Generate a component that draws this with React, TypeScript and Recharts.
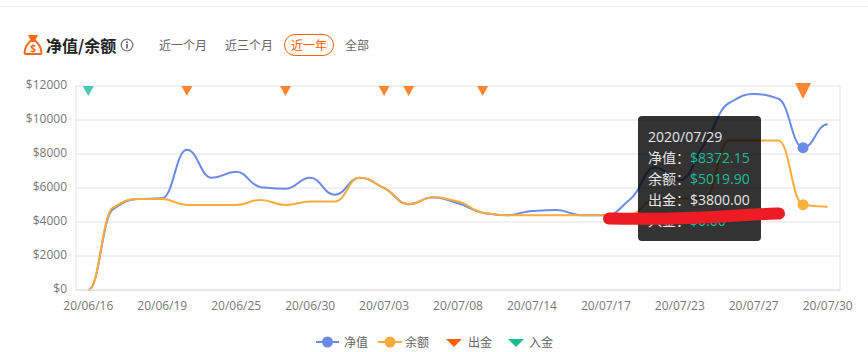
import { LineChart, Line, XAxis, YAxis, CartesianGrid, Tooltip } from 'recharts';

const dates = [
  '20/06/16', '20/06/17', '20/06/18', '20/06/19', '20/06/22', '20/06/24', '20/06/25', '20/06/26',
  '20/06/29', '20/06/30', '20/07/01', '20/07/02', '20/07/03', '20/07/06', '20/07/07', '20/07/08',
  '20/07/09', '20/07/13', '20/07/14', '20/07/15', '20/07/16', '20/07/17', '20/07/20', '20/07/22',
  '20/07/23', '20/07/24', '20/07/26', '20/07/27', '20/07/28', '20/07/29', '20/07/30',
];
const netValue = [
  0, 4750, 5350, 5400, 8250, 6600, 6950, 6050, 5950, 6600, 5600, 6600, 6000, 5050, 5450, 5100,
  4550, 4400, 4650, 4700, 4400, 4400, 5350, 7200, 6470, 8600, 11000, 11530, 11250, 8372.15, 9750,
];
const balance = [
  0, 4850, 5350, 5350, 5000, 5000, 5000, 5300, 5000, 5200, 5200, 6600, 6000, 5050, 5450, 5200,
  4550, 4400, 4400, 4400, 4400, 4400, 4450, 5350, 5400, 5400, 8800, 8800, 8800, 5019.9, 4900,
];
const outflowDates = ['20/06/22', '20/06/29', '20/07/03', '20/07/06', '20/07/09', '20/07/29'];
const inflowDates = ['20/06/16'];
const yTicks = [0, 2000, 4000, 6000, 8000, 10000, 12000];
const ranges = ['近一个月', '近三个月', '近一年', '全部'];
const tipOutflow = '3800.00';
const tipInflow = '0.00';

const TOP = 12000;
const chartData = dates.map((date, i) => ({
  date,
  net: netValue[i],
  balance: balance[i],
  outflow: outflowDates.includes(date) ? TOP : null,
  inflow: inflowDates.includes(date) ? TOP : null,
}));

const FONT = '"Noto Sans CJK SC", "Open Sans", sans-serif';
const LATIN = '"Open Sans", "Noto Sans CJK SC", sans-serif';
const BLUE = '#6b8ae3';
const AMBER = '#f9ab3c';
const ORANGE = '#ff6000';
const GREEN = '#1abc94';

// softer than monotone: damped tangents give the S-shaped steps of the original
function softCurve(ctx: any) {
  let xs: number[] = [];
  let ys: number[] = [];
  return {
    areaStart() {},
    areaEnd() {},
    lineStart() {
      xs = [];
      ys = [];
    },
    point(x: number, y: number) {
      xs.push(+x);
      ys.push(+y);
    },
    lineEnd() {
      const n = xs.length;
      if (!n) return;
      const slope = xs.map((_, i) => {
        if (i === 0 || i === n - 1) return 0;
        const d0 = (ys[i] - ys[i - 1]) / (xs[i] - xs[i - 1]);
        const d1 = (ys[i + 1] - ys[i]) / (xs[i + 1] - xs[i]);
        return d0 * d1 <= 0 ? 0 : (0.9 * 2 * d0 * d1) / (d0 + d1);
      });
      ctx.moveTo(xs[0], ys[0]);
      for (let i = 1; i < n; i++) {
        const h = (xs[i] - xs[i - 1]) * 0.45;
        ctx.bezierCurveTo(xs[i - 1] + h, ys[i - 1] + slope[i - 1] * h, xs[i] - h, ys[i] - slope[i] * h, xs[i], ys[i]);
      }
    },
  };
}

function triangle(color: string, w: number, h: number, lift = 0) {
  return (props: any) => {
    const { cx, cy, key, value } = props;
    if (cy == null || value == null || cx == null) return <g key={key} />;
    return (
      <path
        key={key}
        d={`M${cx - w / 2},${cy - lift} L${cx + w / 2},${cy - lift} L${cx},${cy - lift + h} Z`}
        fill={color}
      />
    );
  };
}

function TipContent({ active, payload }: any) {
  if (!active || !payload?.length) return null;
  const row = payload[0].payload;
  const rowStyle = { height: 21, whiteSpace: 'nowrap' as const };
  const num = { color: GREEN, fontFamily: LATIN };
  return (
    <div
      style={{
        width: 123,
        height: 125,
        boxSizing: 'border-box',
        padding: '10px 0 0 10px',
        background: 'rgba(0,0,0,0.8)',
        borderRadius: 4,
        color: '#e6e6e6',
        fontFamily: FONT,
        fontSize: 14,
        lineHeight: '21px',
      }}
    >
      <div style={{ ...rowStyle, fontFamily: LATIN }}>20{row.date}</div>
      <div style={rowStyle}>净值：<span style={num}>${row.net.toFixed(2)}</span></div>
      <div style={rowStyle}>余额：<span style={num}>${row.balance.toFixed(2)}</span></div>
      <div style={rowStyle}>出金：<span style={{ fontFamily: LATIN }}>${tipOutflow}</span></div>
      <div style={rowStyle}>入金：<span style={num}>${tipInflow}</span></div>
    </div>
  );
}

function Header() {
  return (
    <div style={{ position: 'absolute', left: 0, top: 0, width: 868, height: 70, fontFamily: FONT }}>
      <div style={{ position: 'absolute', left: 0, top: 6, width: 868, height: 1, background: '#eeeeee' }} />
      <svg style={{ position: 'absolute', left: 23, top: 34 }} width={20} height={21} viewBox="0 0 20 21">
        <path d="M5,1 H15 L12.5,6 H7.5 Z" fill="#ff6a13" />
        <path
          d="M7.5,7 H12.5 C15.5,9.5 18,13 18.5,19 Q18.5,20 17,20 H3 Q1.5,20 1.5,19 C2,13 4.5,9.5 7.5,7 Z"
          fill="#fff"
          stroke="#ff6a13"
          strokeWidth={2}
        />
        <text x={10} y={17.5} fontSize={10} fontWeight={700} textAnchor="middle" fill="#ff6a13" fontFamily={LATIN}>$</text>
      </svg>
      <div style={{ position: 'absolute', left: 46, top: 33, fontSize: 16, fontWeight: 700, lineHeight: '24px', color: '#222' }}>净值/余额</div>
      <svg style={{ position: 'absolute', left: 120, top: 38 }} width={14} height={14} viewBox="0 0 14 14">
        <circle cx={7} cy={7} r={5.8} fill="none" stroke="#777" strokeWidth={1.3} />
        <rect x={6.2} y={6} width={1.7} height={4.5} fill="#666" />
        <rect x={6.2} y={3.3} width={1.7} height={1.7} fill="#666" />
      </svg>
      {ranges.map((r, i) => {
        const left = [159, 225, 291, 345][i];
        const on = i === 2;
        return (
          <div key={r} style={{ position: 'absolute', left, top: 36, fontSize: 12, lineHeight: '18px', color: on ? ORANGE : '#666' }}>{r}</div>
        );
      })}
      <div style={{ position: 'absolute', left: 284, top: 34, width: 50, height: 22, boxSizing: 'border-box', border: `1px solid ${ORANGE}`, borderRadius: 11 }} />
    </div>
  );
}

function LegendRow() {
  const label = { position: 'absolute' as const, top: 333, fontSize: 12, lineHeight: '18px', color: '#666', fontFamily: FONT };
  return (
    <>
      <svg style={{ position: 'absolute', left: 0, top: 330 }} width={868} height={22}>
        <line x1={316} x2={339} y1={12} y2={12} stroke={BLUE} strokeWidth={2} />
        <circle cx={327.5} cy={12} r={5.5} fill={BLUE} />
        <line x1={378} x2={402} y1={12} y2={12} stroke={AMBER} strokeWidth={2} />
        <circle cx={390} cy={12} r={5.5} fill={AMBER} />
        <path d="M446,9 H462 L454,17 Z" fill={ORANGE} />
        <path d="M508,9 H524 L516,17 Z" fill={GREEN} />
      </svg>
      <div style={{ ...label, left: 344 }}>净值</div>
      <div style={{ ...label, left: 405 }}>余额</div>
      <div style={{ ...label, left: 468 }}>出金</div>
      <div style={{ ...label, left: 529 }}>入金</div>
    </>
  );
}

export default function App() {
  return (
    <div style={{ position: 'absolute', left: 0, top: 0, width: 868, height: 352, background: '#fff', overflow: 'hidden' }}>
      <Header />
      <div style={{ position: 'absolute', left: 0, top: 0 }}>
        <LineChart width={868} height={352} data={chartData} margin={{ top: 86, right: 28, bottom: 32, left: 0 }}>
          <CartesianGrid
            stroke="#e2e2e2"
            verticalCoordinatesGenerator={({ offset }: any) => [offset.left, offset.left + offset.width]}
          />
          <XAxis
            dataKey="date"
            scale="band"
            interval={2}
            tickLine={false}
            axisLine={{ stroke: '#dcdce4' }}
            tick={{ fill: '#777', fontSize: 12, fontFamily: LATIN }}
            tickMargin={5}
          />
          <YAxis
            width={76}
            domain={[0, TOP]}
            ticks={yTicks}
            tickLine={false}
            axisLine={false}
            tickFormatter={(v: number) => `$${v}`}
            tick={{ fill: '#777', fontSize: 12, fontFamily: LATIN, dy: -1 }}
            tickMargin={3}
          />
          <Tooltip
            active
            defaultIndex={29}
            cursor={false}
            isAnimationActive={false}
            position={{ x: 638, y: 116 }}
            content={<TipContent />}
            wrapperStyle={{ zIndex: 5, outline: 'none' }}
          />
          <Line type={softCurve as any} dataKey="net" name="净值" stroke={BLUE} strokeWidth={2} dot={false} activeDot={{ r: 5.5, fill: BLUE, stroke: BLUE, strokeWidth: 0 }} isAnimationActive={false} />
          <Line type={softCurve as any} dataKey="balance" name="余额" stroke={AMBER} strokeWidth={2} dot={false} activeDot={{ r: 5.5, fill: '#fbb03b', stroke: '#fbb03b', strokeWidth: 0 }} isAnimationActive={false} />
          <Line dataKey="outflow" name="出金" stroke="none" legendType="none" dot={triangle('#ff8533', 11, 10)} activeDot={triangle('#ff8533', 16, 16, 3)} isAnimationActive={false} />
          <Line dataKey="inflow" name="入金" stroke="none" legendType="none" dot={triangle('#48c9a9', 11, 10)} activeDot={false} isAnimationActive={false} />
        </LineChart>
      </div>
      <LegendRow />
      <svg style={{ position: 'absolute', left: 0, top: 0, zIndex: 10, pointerEvents: 'none' }} width={868} height={352}>
        <path
          d="M609,218.5 C660,219.5 700,218 730,216 C750,214.5 765,214 779,213.5"
          fill="none"
          stroke="#ed1c24"
          strokeWidth={12}
          strokeLinecap="round"
        />
      </svg>
    </div>
  );
}
